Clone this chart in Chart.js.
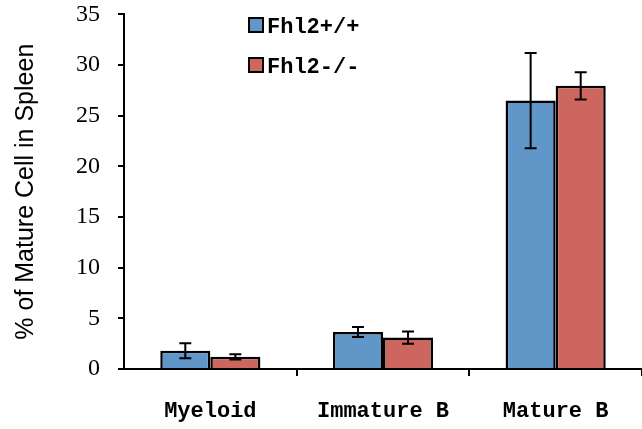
<!DOCTYPE html>
<html>
<head>
<meta charset="utf-8">
<script src="https://cdn.jsdelivr.net/npm/chart.js@4/dist/chart.umd.min.js"></script>
<style>
  body { margin: 0; background: #fff; }
  #wrap { position: relative; width: 642px; height: 429px; }
  .leg { position: absolute; left: 248px; font: bold 22px "Liberation Mono", monospace; color: #000; line-height: 22px; white-space: nowrap; }
  .leg span { display: inline-block; width: 12px; height: 12px; border: 2px solid #000; vertical-align: middle; margin-right: 3px; position: relative; top: -2px; }
</style>
</head>
<body>
<div id="wrap">
  <canvas id="myChart"></canvas>
  <div class="leg" style="top:17px"><span style="background:rgb(97,150,200)"></span>Fhl2+/+</div>
  <div class="leg" style="top:57px"><span style="background:rgb(205,102,95)"></span>Fhl2-/-</div>
</div>
<script>
// values
const categories = ['Myeloid', 'Immature B', 'Mature B'];
const wtValues = [1.8, 3.65, 26.5];
const wtErrors = [0.75, 0.5, 4.7];
const koValues = [1.2, 3.1, 27.95];
const koErrors = [0.25, 0.6, 1.35];
const yTitle = '% of Mature Cell in Spleen';

// error bars drawn through the y scale
const errorBars = {
  id: 'errorBars',
  afterDatasetsDraw(chart) {
    const ctx = chart.ctx;
    const y = chart.scales.y;
    ctx.save();
    ctx.strokeStyle = '#000';
    ctx.lineWidth = 2;
    chart.data.datasets.forEach((ds, i) => {
      const meta = chart.getDatasetMeta(i);
      meta.data.forEach((bar, j) => {
        const v = ds.data[j], e = ds.errors[j];
        const top = y.getPixelForValue(v + e);
        const bot = y.getPixelForValue(v - e);
        ctx.beginPath();
        ctx.moveTo(bar.x, top); ctx.lineTo(bar.x, bot);
        ctx.moveTo(bar.x - 6, top); ctx.lineTo(bar.x + 6, top);
        ctx.moveTo(bar.x - 6, bot); ctx.lineTo(bar.x + 6, bot);
        ctx.stroke();
      });
    });
    ctx.restore();
  }
};

const ctx = document.getElementById('myChart');

const myChart = new Chart(ctx, {
  type: 'bar',
  data: {
    labels: categories,
    datasets: [{
      label: 'Fhl2+/+',
      data: wtValues,
      errors: wtErrors,
      backgroundColor: 'rgb(97, 150, 200)',
      borderColor: '#000',
      borderWidth: 2.5,
    }, {
      label: 'Fhl2-/-',
      data: koValues,
      errors: koErrors,
      backgroundColor: 'rgb(205, 102, 95)',
      borderColor: '#000',
      borderWidth: 2.5,
    }]
  },
  options: {
    responsive: true,
    maintainAspectRatio: false,
    animation: false,
    categoryPercentage: 0.58,
    barPercentage: 1,
    layout: { padding: { top: 0, right: 0, left: 0, bottom: 0 } },
    plugins: {
      legend: { display: false },
      tooltip: { enabled: false }
    },
    scales: {
      x: {
        afterFit: (s) => { s.height = 60; },
        border: { color: '#000', width: 2 },
        grid: {
          drawOnChartArea: false,
          tickLength: 7,
          lineWidth: 2,
          color: (c) => (c.index === 0 || c.index === 3) ? 'rgba(0,0,0,0)' : '#000'
        },
        ticks: {
          color: '#000',
          padding: 22,
          font: { family: '"Liberation Mono", monospace', size: 22, weight: 'bold' }
        }
      },
      y: {
        min: 0,
        max: 35,
        afterFit: (s) => { s.width = 124; },
        border: { color: '#000', width: 2 },
        // long tick slot keeps labels away from the axis, only the last 6px are drawn
        grid: {
          drawOnChartArea: false,
          tickLength: 24,
          tickBorderDash: [6, 18],
          tickBorderDashOffset: 6,
          lineWidth: 2,
          color: '#000'
        },
        ticks: {
          stepSize: 5,
          color: '#000',
          padding: 0,
          font: { family: '"Liberation Serif", serif', size: 24 }
        },
        title: {
          display: true,
          text: yTitle,
          color: '#000',
          padding: { top: 11, bottom: 0 },
          font: { family: '"Liberation Sans", Arial, sans-serif', size: 25 }
        }
      }
    }
  },
  plugins: [errorBars]
});
</script>
</body>
</html>
